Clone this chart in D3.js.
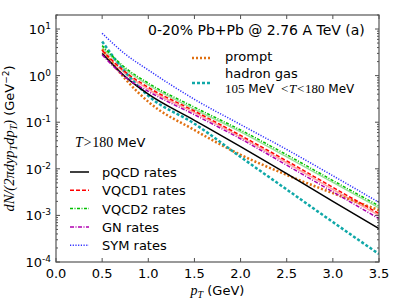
<!DOCTYPE html>
<html>
<head>
<meta charset="utf-8">
<script src="https://cdn.jsdelivr.net/npm/d3@7"></script>
<style>
  body { margin: 0; background: #fff; }
  text { font-family: "DejaVu Sans", sans-serif; }
  .m { font-family: "Liberation Serif", serif; font-style: italic; }
  .r { font-family: "Liberation Serif", serif; }
</style>
</head>
<body>
<div class="container"></div>
<script>
const pT = [0.5, 0.75, 1.0, 1.5, 2.0, 2.5, 3.0, 3.5]

const sym    = [8.1, 2.9, 1.32, 0.31, 0.089, 0.026, 0.0071, 0.0019]
const vqcd2  = [4.4, 1.48, 0.69, 0.21, 0.068, 0.020, 0.0056, 0.0016]
const vqcd2b = [4.0, 1.36, 0.63, 0.19, 0.062, 0.018, 0.0051, 0.00145]
const vqcd1  = [3.5, 1.2, 0.56, 0.174, 0.052, 0.0148, 0.0040, 0.0011]
const vqcd1b = [3.2, 1.1, 0.51, 0.16, 0.048, 0.0135, 0.0036, 0.0010]
const gn     = [2.8, 0.93, 0.46, 0.145, 0.044, 0.012, 0.0032, 0.00085]
const pqcd   = [3.0, 0.95, 0.40, 0.11, 0.030, 0.0079, 0.0020, 0.00052]
const hadron = [5.4, 1.2, 0.37, 0.093, 0.018, 0.0036, 0.00072, 0.000148]
const prompt = [3.7, 0.85, 0.275, 0.068, 0.020, 0.0074, 0.0030, 0.0013]

const xTicks = [0.0, 0.5, 1.0, 1.5, 2.0, 2.5, 3.0, 3.5]
const yTicks = [1, 0, -1, -2, -3, -4]   // exponents

const width = 399, height = 299
const margin = {top: 15, left: 56, right: 20, bottom: 37}
const w = width - margin.left - margin.right
const h = height - margin.top - margin.bottom

const svg = d3.select('.container')
    .append('svg')
    .attr('width', width)
    .attr('height', height)
    .append('g')
    .attr('transform', `translate(${margin.left},${margin.top})`)

const x = d3.scaleLinear().domain([0, 3.5]).range([0, w])
const y = d3.scaleLog().domain([1e-4, 20]).range([h, 0])

const clip = svg.append('clipPath').attr('id', 'clip')
clip.append('rect').attr('width', w).attr('height', h)

const curves = [
    {vals: vqcd2b, color: '#9be39b', width: 1.5, dash: null},
    {vals: vqcd1b, color: '#ffa0a0', width: 1.5, dash: null},
    {vals: prompt, color: '#e07010', width: 2.5, dash: '2,2'},
    {vals: hadron, color: '#10a8a8', width: 2.5, dash: '3,2'},
    {vals: pqcd,   color: '#000000', width: 1.5, dash: null},
    {vals: vqcd1,  color: '#ff0000', width: 1.5, dash: '4,2'},
    {vals: vqcd2,  color: '#00c000', width: 1.5, dash: '3,1.5,1,1.5'},
    {vals: gn,     color: '#b000b0', width: 1.5, dash: '4,1.5,1,1.5'},
    {vals: sym,    color: '#3030ff', width: 1.5, dash: '1.2,1.5'},
]

const line = d3.line()
    .x((d, i) => x(pT[i]))
    .y(d => y(d))
    .curve(d3.curveMonotoneX)

svg.append('g').attr('clip-path', 'url(#clip)')
    .selectAll('path')
    .data(curves)
    .enter()
    .append('path')
    .attr('d', d => line(d.vals))
    .attr('fill', 'none')
    .attr('stroke', d => d.color)
    .attr('stroke-width', d => d.width)
    .attr('stroke-dasharray', d => d.dash)

// ticks, inside, on all four sides
const ax = svg.append('g').attr('stroke', '#222').attr('stroke-width', 0.8)
xTicks.forEach(t => {
    ax.append('line').attr('x1', x(t)).attr('x2', x(t)).attr('y1', h).attr('y2', h - 4)
    ax.append('line').attr('x1', x(t)).attr('x2', x(t)).attr('y1', 0).attr('y2', 4)
})
y.ticks().forEach(t => {
    const major = Math.abs(Math.log10(t) - Math.round(Math.log10(t))) < 1e-9
    const len = major ? 4 : 2
    ax.append('line').attr('x1', 0).attr('x2', len).attr('y1', y(t)).attr('y2', y(t))
    ax.append('line').attr('x1', w).attr('x2', w - len).attr('y1', y(t)).attr('y2', y(t))
})

svg.append('rect')
    .attr('width', w).attr('height', h)
    .attr('fill', 'none').attr('stroke', '#555').attr('stroke-width', 1.2)

// tick labels
svg.selectAll('.xt')
    .data(xTicks)
    .enter()
    .append('text')
    .attr('x', d => x(d))
    .attr('y', h + 16)
    .attr('text-anchor', 'middle')
    .attr('font-size', 13)
    .text(d => d.toFixed(1))

const yt = svg.selectAll('.yt')
    .data(yTicks)
    .enter()
    .append('text')
    .attr('x', -5)
    .attr('y', d => y(Math.pow(10, d)) + 5)
    .attr('text-anchor', 'end')
    .attr('font-size', 13)
yt.append('tspan').text('10')
yt.append('tspan').attr('font-size', 9).attr('dy', -5).text(d => d)

// x label
const xl = svg.append('text')
    .attr('x', x(1.75)).attr('y', h + 33)
    .attr('text-anchor', 'middle').attr('font-size', 13)
xl.append('tspan').attr('class', 'm').attr('font-size', 14).text('p')
xl.append('tspan').attr('class', 'm').attr('font-size', 10).attr('dy', 3).text('T')
xl.append('tspan').attr('dy', -3).text(' (GeV)')

// y label
const yl = svg.append('text')
    .attr('transform', `translate(${-42},${h / 2}) rotate(-90)`)
    .attr('text-anchor', 'middle').attr('font-size', 13)
yl.append('tspan').attr('class', 'm').attr('font-size', 14.5).text('dN/(2πdyp')
yl.append('tspan').attr('class', 'm').attr('font-size', 10).attr('dy', 3).text('T')
yl.append('tspan').attr('class', 'm').attr('font-size', 14.5).attr('dy', -3).text('dp')
yl.append('tspan').attr('class', 'm').attr('font-size', 10).attr('dy', 3).text('T')
yl.append('tspan').attr('class', 'm').attr('font-size', 14.5).attr('dy', -3).text(')')
yl.append('tspan').text(' (GeV')
yl.append('tspan').attr('font-size', 9).attr('dy', -5).text('−2')
yl.append('tspan').attr('dy', 5).text(')')

// title
svg.append('text')
    .attr('x', 92).attr('y', 20)
    .attr('font-size', 14)
    .text('0-20% Pb+Pb @ 2.76 A TeV  (a)')

// upper legend
const topLeg = [
    {color: '#e07010', dash: '2,2', ly: 43},
    {color: '#10a8a8', dash: '3,2', ly: 68},
]
svg.selectAll('.tl')
    .data(topLeg)
    .enter()
    .append('line')
    .attr('x1', 136).attr('x2', 155)
    .attr('y1', d => d.ly).attr('y2', d => d.ly)
    .attr('stroke', d => d.color).attr('stroke-width', 2.5)
    .attr('stroke-dasharray', d => d.dash)
svg.append('text').attr('x', 169).attr('y', 46).attr('font-size', 13).text('prompt')
svg.append('text').attr('x', 169).attr('y', 63).attr('font-size', 13).text('hadron gas')
const hg = svg.append('text').attr('x', 169).attr('y', 78).attr('font-size', 12)
hg.append('tspan').attr('class', 'r').attr('font-size', 13).text('105')
hg.append('tspan').text(' MeV')
hg.append('tspan').attr('class', 'm').attr('font-size', 13).attr('dx', 6).text('<T<')
hg.append('tspan').attr('class', 'r').attr('font-size', 13).text('180')
hg.append('tspan').text(' MeV')

// lower legend
const tl = svg.append('text').attr('x', 19).attr('y', 132).attr('font-size', 13)
tl.append('tspan').attr('class', 'm').attr('font-size', 14).text('T>')
tl.append('tspan').attr('class', 'r').attr('font-size', 14).text('180')
tl.append('tspan').text(' MeV')

const legNames = ['pQCD rates', 'VQCD1 rates', 'VQCD2 rates', 'GN rates', 'SYM rates']
const legStyle = [curves[4], curves[5], curves[6], curves[7], curves[8]]
const lg = svg.selectAll('.lg')
    .data(legNames)
    .enter()
    .append('g')
    .attr('transform', (d, i) => `translate(14, ${157 + i * 18.3})`)
lg.append('line')
    .attr('x1', 0).attr('x2', 19)
    .attr('stroke', (d, i) => legStyle[i].color)
    .attr('stroke-width', (d, i) => legStyle[i].width)
    .attr('stroke-dasharray', (d, i) => legStyle[i].dash)
lg.append('text')
    .attr('x', 32).attr('y', 5)
    .attr('font-size', 13)
    .text(d => d)
</script>
</body>
</html>
